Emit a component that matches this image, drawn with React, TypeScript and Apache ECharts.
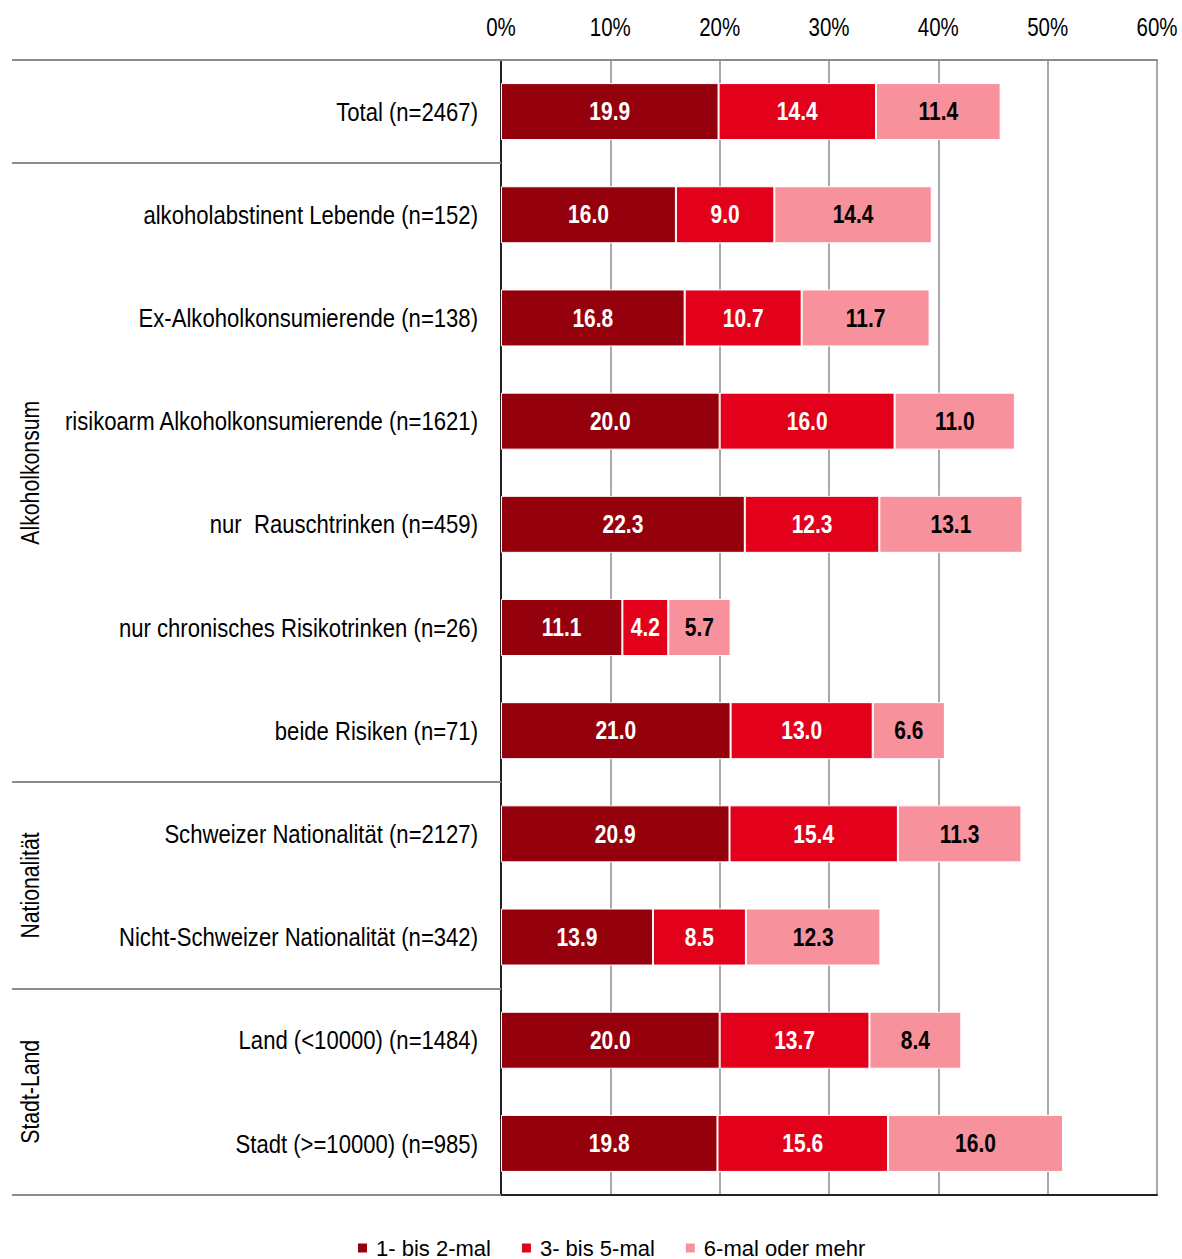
import React, { useEffect, useRef } from "react";
import * as echarts from "echarts";

const categories = [
  "Total (n=2467)",
  "alkoholabstinent Lebende (n=152)",
  "Ex-Alkoholkonsumierende (n=138)",
  "risikoarm Alkoholkonsumierende (n=1621)",
  "nur  Rauschtrinken (n=459)",
  "nur chronisches Risikotrinken (n=26)",
  "beide Risiken (n=71)",
  "Schweizer Nationalität (n=2127)",
  "Nicht-Schweizer Nationalität (n=342)",
  "Land (<10000) (n=1484)",
  "Stadt (>=10000) (n=985)",
];

const seriesNames = ["1- bis 2-mal", "3- bis 5-mal", "6-mal oder mehr"];
const s1 = [19.9, 16.0, 16.8, 20.0, 22.3, 11.1, 21.0, 20.9, 13.9, 20.0, 19.8];
const s2 = [14.4, 9.0, 10.7, 16.0, 12.3, 4.2, 13.0, 15.4, 8.5, 13.7, 15.6];
const s3 = [11.4, 14.4, 11.7, 11.0, 13.1, 5.7, 6.6, 11.3, 12.3, 8.4, 16.0];

const xTicks = [0, 10, 20, 30, 40, 50, 60];

// groups: [label, firstIndex, lastIndex]
const groups: [string, number, number][] = [
  ["", 0, 0],
  ["Alkoholkonsum", 1, 6],
  ["Nationalität", 7, 8],
  ["Stadt-Land", 9, 10],
];

const colors = ["#95000d", "#e2001a", "#f7919c"];
const labelColors = ["#ffffff", "#ffffff", "#000000"];
const FONT = "'Liberation Sans', Arial, sans-serif";
const NARROW = 0.82;

export default function App() {
  const ref = useRef<HTMLDivElement>(null);
  useEffect(() => {
    document.body.style.margin = "0";
    const chart = echarts.init(ref.current!, null, { renderer: "svg" });
    const data = [s1, s2, s3];
    const option: any = {
      animation: false,
      textStyle: { fontFamily: FONT },
      grid: { left: 501, right: 25, top: 60, bottom: 64, containLabel: false },
      legend: {
        top: 1232,
        left: 351,
        itemWidth: 11,
        itemHeight: 11,
        itemGap: 29,
        icon: "rect",
        textStyle: { fontFamily: FONT, fontSize: 22, color: "#000", padding: [0, 0, 0, 3] },
        data: seriesNames,
      },
      xAxis: [
        {
          type: "value",
          position: "top",
          min: 0,
          max: 60,
          interval: 10,
          axisLabel: { show: false },
          axisLine: { show: true, lineStyle: { color: "#8c8c8c", width: 2 } },
          axisTick: { show: false },
          splitLine: { show: true, lineStyle: { color: "#8c8c8c", width: 1.5 } },
        },
        {
          type: "value",
          position: "bottom",
          min: 0,
          max: 60,
          axisLabel: { show: false },
          axisLine: { show: true, lineStyle: { color: "#222", width: 2 } },
          axisTick: { show: false },
          splitLine: { show: false },
        },
      ],
      yAxis: [
        {
          type: "category",
          data: categories,
          inverse: true,
          axisLabel: { show: false },
          axisLine: { show: true, lineStyle: { color: "#8c8c8c", width: 2 } },
          axisTick: { show: false },
        },
        {
          type: "category",
          data: categories,
          inverse: true,
          position: "right",
          axisLabel: { show: false },
          axisLine: { show: true, lineStyle: { color: "#222", width: 2 } },
          axisTick: { show: false },
        },
      ],
      series: data.map((d, i) => ({
        name: seriesNames[i],
        type: "bar",
        stack: "total",
        xAxisIndex: 0,
        yAxisIndex: 0,
        barWidth: 57,
        data: d,
        itemStyle: { color: colors[i], borderColor: "#ffffff", borderWidth: 1 },
        label: { show: false },
      })),
    };
    chart.setOption(option);

    const yOf = (i: number) => chart.convertToPixel({ yAxisIndex: 0 }, categories[i]) as number;
    const xOf = (v: number) => chart.convertToPixel({ xAxisIndex: 0 }, v) as number;
    const half = (yOf(1) - yOf(0)) / 2;
    const x0 = xOf(0);
    const graphics: any[] = [];

    // category labels (narrow)
    categories.forEach((c, i) => {
      graphics.push({
        type: "text",
        x: x0 - 23,
        y: yOf(i),
        scaleX: 0.85,
        style: {
          text: c,
          fontFamily: FONT,
          fontSize: 26,
          fill: "#000",
          align: "right",
          verticalAlign: "middle",
        },
      });
    });

    // x tick labels (top)
    xTicks.forEach((t) => {
      graphics.push({
        type: "text",
        x: xOf(t),
        y: 27,
        scaleX: NARROW,
        style: {
          text: t + "%",
          fontFamily: FONT,
          fontSize: 25,
          fill: "#000",
          align: "center",
          verticalAlign: "middle",
        },
      });
    });

    // value labels centred on each stacked segment
    categories.forEach((c, i) => {
      let cum = 0;
      data.forEach((d, s) => {
        const v = d[i];
        const [px, py] = chart.convertToPixel({ xAxisIndex: 0, yAxisIndex: 0 }, [cum + v / 2, c]) as number[];
        cum += v;
        graphics.push({
          type: "text",
          x: px,
          y: py,
          scaleX: 0.84,
          z: 20,
          style: {
            text: v.toFixed(1),
            fontFamily: FONT,
            fontSize: 25,
            fontWeight: "bold",
            fill: labelColors[s],
            align: "center",
            verticalAlign: "middle",
          },
        });
      });
    });

    // group separators
    const boundaries = new Set<number>();
    groups.forEach(([, a, b]) => {
      boundaries.add(Math.round(yOf(a) - half));
      boundaries.add(Math.round(yOf(b) + half));
    });
    boundaries.forEach((y) => {
      graphics.push({
        type: "line",
        shape: { x1: 12, y1: y, x2: x0, y2: y },
        style: { stroke: "#8c8c8c", lineWidth: 2 },
        z: 10,
      });
    });

    // group labels (rotated)
    groups.forEach(([label, a, b]) => {
      if (!label) return;
      const yc = (yOf(a) + yOf(b)) / 2;
      graphics.push({
        type: "text",
        x: 30,
        y: yc,
        rotation: Math.PI / 2,
        scaleX: 0.85,
        style: {
          text: label,
          fontFamily: FONT,
          fontSize: 25,
          fill: "#000",
          align: "center",
          verticalAlign: "middle",
        },
      });
    });
    chart.setOption({ graphic: graphics });

    return () => chart.dispose();
  }, []);
  return <div ref={ref} style={{ width: 1182, height: 1259 }} />;
}
